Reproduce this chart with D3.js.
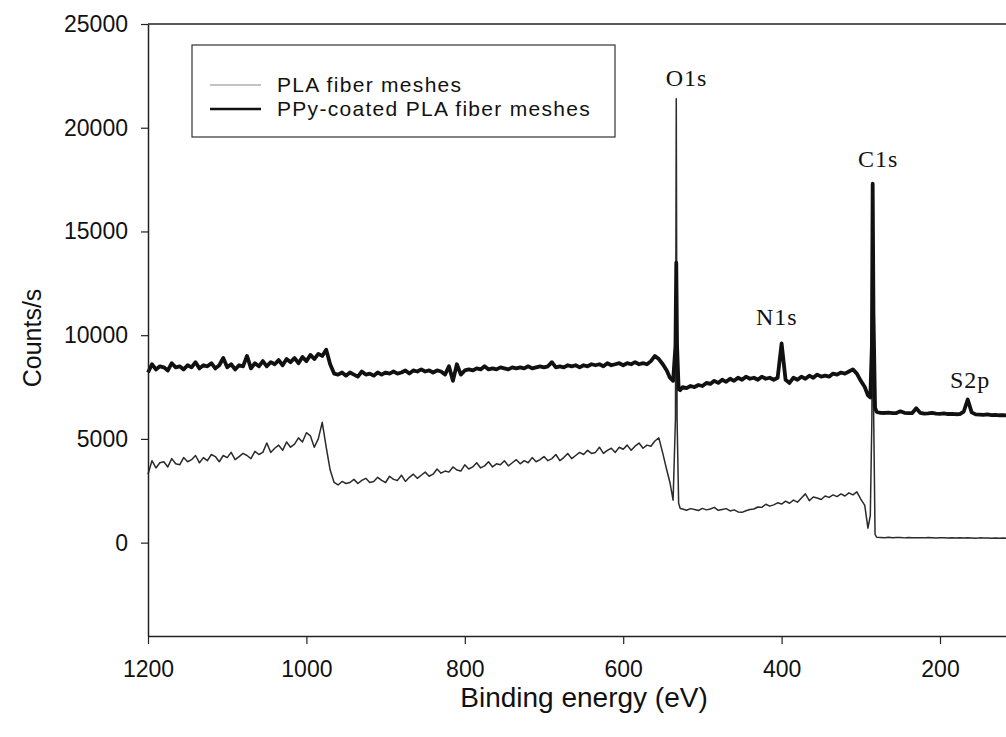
<!DOCTYPE html>
<html>
<head>
<meta charset="utf-8">
<script src="https://cdnjs.cloudflare.com/ajax/libs/d3/7.8.5/d3.min.js"></script>
<style>
  body { margin: 0; background: #fff; }
  svg { display: block; font-family: "Liberation Sans", Arial, sans-serif; }
</style>
</head>
<body>
<div id="chart"></div>
<script>

// binding energy grid (eV), denser round the O1s and C1s peaks
var energy = [].concat(
  d3.range(1200, 544, -5),
  [541, 537, 534, 533, 532, 530, 528],
  d3.range(525, 294, -5),
  [291, 288, 286, 285, 284, 282, 280],
  d3.range(275, 99, -5)
);

// counts/s, PLA fiber meshes (thin line)
var plaCounts = [
  3300, 3950, 3600, 3850, 3900, 3650, 4050, 3800, 3750, 4100,
  3900, 4000, 4200, 3850, 4100, 3950, 4250, 4150, 3900, 4200,
  4100, 4350, 4000, 4150, 4300, 4200, 4050, 4400, 4250, 4350,
  4800, 4350, 4550, 4700, 4450, 4850, 4600, 4750, 5050, 4850,
  5300, 5150, 4600, 5000, 5800, 4600, 3500, 2900, 2780, 2950,
  2850, 2900, 3050, 2850, 3000, 3100, 2900, 2950, 3150, 3000,
  2900, 3200, 3050, 3000, 3250, 2950, 3150, 3300, 3100, 3250,
  3400, 3200, 3300, 3550, 3350, 3450, 3400, 3650, 3500, 3450,
  3750, 3550, 3650, 3850, 3600, 3700, 3900, 3650, 3800, 3750,
  3950, 3700, 3850, 4000, 3800, 3950, 3850, 4100, 3900, 4000,
  4150, 3950, 4050, 4250, 3950, 4100, 4300, 4050, 4200, 4350,
  4250, 4450, 4300, 4350, 4600, 4300, 4450, 4550, 4350, 4600,
  4500, 4700, 4450, 4650, 4800, 4550, 4700, 4650, 4900, 5050,
  4300, 3500,
  // O1s
  2900, 2050, 6000, 21400, 6000, 1900, 1650,
  1620, 1560, 1640, 1600, 1550, 1650, 1580, 1620, 1700, 1560,
  1600, 1640, 1530, 1580, 1480, 1460, 1540, 1600, 1620, 1720,
  1700, 1850, 1760, 1820, 1920, 1860, 2000, 1900, 2050, 1950,
  2150, 2350, 2020, 2200, 2150, 2080, 2250, 2180, 2300, 2220,
  2350, 2250, 2400, 2300, 2450, 2100, 1800,
  // C1s
  700, 1300, 6000, 15000, 7000, 400, 260,
  250, 240, 255, 235, 245, 250, 230, 245, 240, 235,
  240, 230, 245, 235, 225, 240, 230, 220, 235, 225,
  230, 220, 235, 225, 215, 230, 220, 225, 210, 220,
  215, 225, 210, 220, 205, 215
];

// counts/s, PPy-coated PLA fiber meshes (thick line)
var ppyCounts = [
  8200, 8600, 8350, 8500, 8450, 8300, 8650, 8450, 8500, 8350,
  8550, 8450, 8700, 8400, 8550, 8500, 8650, 8400, 8550, 8900,
  8450, 8600, 8350, 8550, 8500, 9000, 8400, 8650, 8500, 8750,
  8500, 8700, 8600, 8800, 8550, 8850, 8700, 8900, 8650, 8950,
  8750, 9050, 8850, 9100, 9000, 9300, 8600, 8150, 8100, 8200,
  8050, 8200, 8100, 8000, 8250, 8100, 8150, 8050, 8200, 8100,
  8200, 8150, 8250, 8150, 8200, 8300, 8150, 8300, 8250, 8350,
  8250, 8300, 8200, 8300, 8250, 8100, 8500, 7800, 8600, 8100,
  8300, 8350, 8300, 8400, 8350, 8500, 8350, 8400, 8350, 8450,
  8400, 8350, 8450, 8400, 8450, 8400, 8500, 8400, 8450, 8500,
  8450, 8500, 8700, 8450, 8500, 8450, 8550, 8500, 8550, 8450,
  8550, 8500, 8600, 8550, 8600, 8500, 8650, 8550, 8600, 8650,
  8550, 8650, 8600, 8700, 8600, 8650, 8600, 8750, 9000, 8850,
  8600, 8300,
  // O1s
  7950, 7800, 9500, 13500, 9500, 7400, 7350,
  7500, 7450, 7550, 7500, 7600, 7550, 7700, 7650, 7800, 7700,
  7850, 7750, 7900, 7800, 7950, 7850, 8000, 7900, 7950, 7850,
  8000, 7900, 7950, 7850, 7950, 9600, 7850, 7700, 7950, 7850,
  8000, 7900, 8050, 7950, 8100, 8000, 8050, 8000, 8150, 8100,
  8200, 8150, 8250, 8350, 8150, 7800, 7500,
  // C1s
  7100, 7000, 9500, 17300, 11000, 6500, 6300,
  6260, 6250, 6270, 6240, 6250, 6330, 6260, 6240, 6250, 6480,
  6260, 6220, 6230, 6250, 6220, 6210, 6230, 6200, 6210, 6190,
  6200, 6320, 6900, 6280, 6180, 6170, 6160, 6180, 6150, 6160,
  6140, 6150, 6130, 6140, 6120, 6130
];

var xTicks = [1200, 1000, 800, 600, 400, 200];
var yTicks = [0, 5000, 10000, 15000, 20000, 25000];

// peak names with the energy / count where the label sits
var peakNames = ["O1s", "N1s", "C1s", "S2p"];
var peakEnergy = [520, 406, 278, 162];
var peakCount = [22000, 10500, 18100, 7450];

var seriesNames = ["PLA fiber meshes", "PPy-coated PLA fiber meshes"];

//set dimensions, the plot runs off the right edge like the original
var svgWidth = 1006, svgHeight = 737;
var margin = { top: 24, left: 148, bottom: 101 };

var x = d3.scaleLinear().domain([1200, 0]).range([margin.left, margin.left + 1200 * 0.792]);
var y = d3.scaleLinear().domain([-4500, 25000]).range([svgHeight - margin.bottom, margin.top]);

var svg = d3.select("#chart")
  .append("svg")
  .attr("width", svgWidth)
  .attr("height", svgHeight);

function makeSeries(counts) {
  return energy.map(function(e, i) { return [e, counts[i]]; });
}

var line = d3.line()
  .x(function(d) { return x(d[0]); })
  .y(function(d) { return y(d[1]); });

// top frame line
svg.append("line")
  .attr("x1", margin.left)
  .attr("x2", x(0))
  .attr("y1", y(25000))
  .attr("y2", y(25000))
  .attr("stroke", "#222")
  .attr("stroke-width", 1.5);

svg.append("path")
  .datum(makeSeries(plaCounts))
  .attr("d", line)
  .attr("fill", "none")
  .attr("stroke", "#2a2a2a")
  .attr("stroke-width", 1.5)
  .attr("stroke-linejoin", "round");

svg.append("path")
  .datum(makeSeries(ppyCounts))
  .attr("d", line)
  .attr("fill", "none")
  .attr("stroke", "#111")
  .attr("stroke-width", 3.8)
  .attr("stroke-linejoin", "round");

// axes
var xAxis = svg.append("g")
  .attr("transform", "translate(0," + y(-4500) + ")")
  .call(d3.axisBottom(x).tickValues(xTicks).tickFormat(d3.format("d")).tickSize(8).tickSizeOuter(0).tickPadding(17));

var yAxis = svg.append("g")
  .attr("transform", "translate(" + margin.left + ",0)")
  .call(d3.axisLeft(y).tickValues(yTicks).tickFormat(d3.format("d")).tickSize(7).tickSizeOuter(0).tickPadding(13));

[xAxis, yAxis].forEach(function(g) {
  g.select(".domain").attr("stroke", "#222").attr("stroke-width", 1.5);
  g.selectAll(".tick line").attr("stroke", "#222").attr("stroke-width", 1.2);
  g.selectAll(".tick text")
    .attr("fill", "#111")
    .style("font-size", "23px")
    .style("font-family", "'Liberation Sans', Arial, sans-serif");
});

svg.append("text")
  .attr("x", 584)
  .attr("y", 707)
  .attr("text-anchor", "middle")
  .attr("fill", "#111")
  .style("font-size", "28px")
  .text("Binding energy (eV)");

svg.append("text")
  .attr("transform", "translate(41,338) rotate(-90)")
  .attr("text-anchor", "middle")
  .attr("fill", "#111")
  .style("font-size", "25px")
  .text("Counts/s");

// peak labels
peakNames.forEach(function(name, i) {
  svg.append("text")
    .attr("x", x(peakEnergy[i]))
    .attr("y", y(peakCount[i]))
    .attr("text-anchor", "middle")
    .attr("fill", "#111")
    .style("font-family", "'Liberation Serif', 'Times New Roman', serif")
    .style("font-size", "24px")
    .style("letter-spacing", "1px")
    .text(name);
});

// legend
var legend = svg.append("g").attr("class", "legend");

legend.append("rect")
  .attr("x", 192)
  .attr("y", 45)
  .attr("width", 423)
  .attr("height", 92)
  .attr("fill", "#fff")
  .attr("stroke", "#333")
  .attr("stroke-width", 1.2);

seriesNames.forEach(function(name, i) {
  var ly = 85 + i * 24;
  legend.append("line")
    .attr("x1", 210)
    .attr("x2", 261)
    .attr("y1", ly)
    .attr("y2", ly)
    .attr("stroke", i == 0 ? "#888" : "#111")
    .attr("stroke-width", i == 0 ? 1 : 2.6);
  legend.append("text")
    .attr("x", 277)
    .attr("y", ly + 7)
    .attr("fill", "#111")
    .style("font-size", "21px")
    .style("letter-spacing", "1.3px")
    .text(name);
});

</script>
</body>
</html>
